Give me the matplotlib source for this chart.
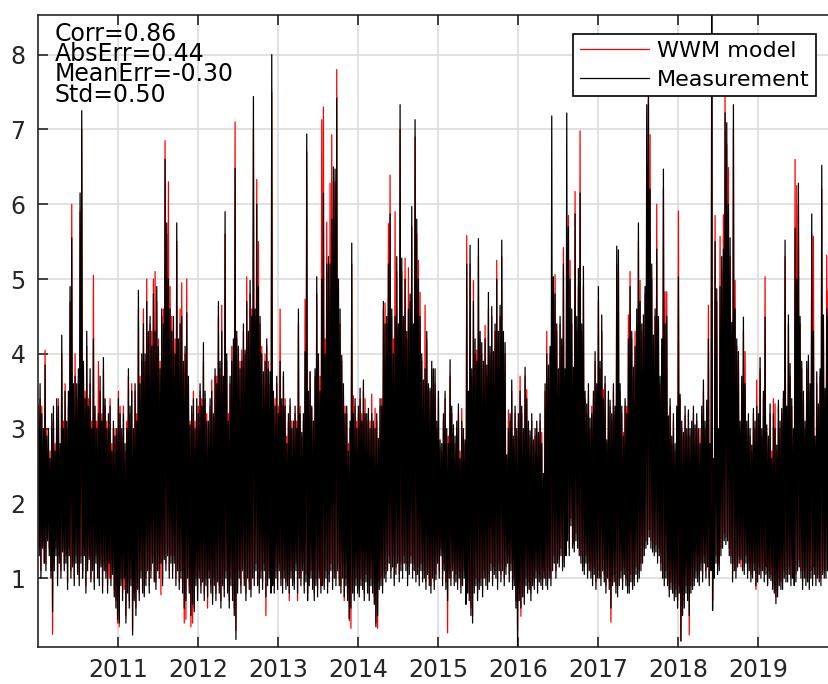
import numpy as np
import matplotlib.pyplot as plt

# Hs time series, 2010-2020, 48 bins per year: peak (hi) and trough (lo) of each bin
meas_hi = [
    3.3, 3.6, 3.2, 3.0, 3.85, 2.9, 3.0, 2.6, 3.2, 3.3,
    2.7, 3.4, 3.3, 2.8, 4.25, 3.0, 3.5, 3.1, 3.5, 4.9,
    5.55, 3.6, 3.7, 3.6, 3.8, 6.15, 7.25, 3.9, 3.4, 4.3,
    3.3, 3.8, 3.0, 4.2, 3.3, 3.0, 3.2, 3.7, 3.1, 3.95,
    3.4, 3.0, 3.2, 3.3, 2.7, 3.1, 2.9, 3.0, 3.4, 3.2,
    3.0, 3.2, 2.8, 3.0, 3.8, 3.3, 3.5, 3.0, 3.6, 3.1,
    4.85, 3.6, 4.0, 4.4, 4.0, 4.7, 4.3, 4.5, 4.1, 4.8,
    4.3, 4.9, 4.1, 3.8, 4.6, 4.4, 6.6, 5.75, 5.0, 4.6,
    4.3, 4.5, 4.0, 5.75, 4.2, 4.4, 4.5, 3.9, 4.1, 4.55,
    3.7, 3.05, 3.3, 3.4, 3.0, 3.4, 3.2, 3.6, 3.3, 4.15,
    3.5, 3.1, 3.1, 3.4, 3.5, 3.2, 3.8, 3.6, 4.7, 3.9,
    4.3, 3.7, 5.9, 4.0, 3.1, 3.7, 3.9, 4.2, 6.48, 4.3,
    4.1, 3.8, 3.9, 4.4, 4.05, 4.7, 4.3, 4.98, 4.5, 7.44,
    4.6, 6.0, 4.9, 4.5, 4.0, 3.76, 3.9, 4.2, 3.8, 3.76,
    8.0, 3.5, 3.3, 3.7, 3.2, 3.9, 3.4, 3.76, 3.3, 2.8,
    3.2, 3.4, 3.0, 3.1, 3.3, 3.0, 4.6, 3.2, 2.95,
    3.2, 4.03, 6.94, 3.5, 3.76, 3.3, 3.1, 3.8, 5.03, 4.0,
    3.5, 5.0, 6.15, 4.0, 5.2, 5.3, 5.2, 5.8, 6.5, 6.47,
    7.42, 5.0, 4.6, 3.98, 3.6, 3.2, 3.3, 2.7, 3.1, 5.48,
    3.2, 3.4, 3.0, 3.3, 3.54, 3.1, 3.65, 3.2, 3.2, 3.27,
    3.0, 3.2, 3.1, 3.0, 3.2, 2.87, 3.4, 3.3, 4.7, 4.4,
    4.5, 5.2, 5.87, 4.6, 4.0, 4.5, 5.3, 4.4, 7.33, 5.28,
    4.5, 5.0, 4.3, 4.6, 4.8, 5.97, 4.4, 7.13, 5.8, 5.0,
    4.5, 4.0, 3.65, 3.8, 4.3, 3.6, 3.54, 3.9, 3.8,
    3.8, 3.1, 3.5, 2.85, 2.8, 3.2, 3.5, 3.0, 2.8, 3.92,
    3.3, 3.05, 2.9, 3.1, 3.33, 2.6, 3.1, 3.0, 2.85, 5.2,
    3.5, 5.45, 3.8, 4.7, 4.2, 3.9, 5.54, 4.3, 4.15, 3.9,
    4.2, 3.85, 4.82, 4.1, 4.63, 4.03, 4.4, 5.0, 4.3, 4.65,
    5.52, 4.3, 4.15, 2.65, 3.0, 3.2, 3.65, 2.9, 3.3, 3.0,
    3.2, 3.5, 3.3, 3.0, 3.82, 3.4, 3.1, 2.97, 3.2, 2.85,
    3.0, 3.1, 2.95, 3.2, 2.8, 2.4, 3.6, 4.0, 3.85, 4.1,
    7.18, 5.03, 4.8, 4.4, 3.8, 4.5, 4.2, 5.2, 3.8,
    7.22, 5.7, 5.0, 4.6, 3.82, 5.87, 4.5, 5.14, 6.15, 4.4,
    5.17, 3.5, 3.33, 3.6, 3.14, 3.2, 3.5, 4.03, 3.6, 4.9,
    3.9, 4.52, 3.4, 3.7, 2.85, 3.5, 3.38, 3.2, 3.6, 3.3,
    5.44, 5.39, 3.6, 3.3, 2.9, 3.4, 3.2, 4.2, 4.9, 4.3,
    3.82, 4.1, 4.6, 5.75, 4.7, 4.4, 4.52, 4.9, 7.33, 7.8,
    6.2, 5.2, 4.25, 4.6, 5.4, 4.5, 3.7, 4.2, 6.47, 4.4,
    4.5, 3.17, 3.4, 2.9, 3.2, 2.8, 3.3, 5.03, 3.46, 3.1,
    2.95, 3.3, 3.0, 3.25, 3.0, 3.1, 3.3, 3.05, 3.2,
    3.0, 2.8, 3.3, 3.65, 3.1, 3.38, 4.2, 2.8, 8.8, 2.6,
    5.5, 4.87, 3.0, 4.9, 5.3, 5.4, 7.22, 7.09, 6.0, 5.55,
    4.42, 7.33, 4.6, 4.2, 4.03, 3.1, 3.7, 4.49, 3.6, 3.1,
    3.2, 3.0, 2.78, 3.27, 3.1, 3.3, 3.2, 3.95, 3.0, 3.5,
    4.49, 3.05, 2.9, 3.33, 2.6, 3.2, 3.0, 2.78, 3.38, 3.1,
    3.27, 3.5, 5.52, 3.3, 4.52, 3.87, 3.4, 3.0, 5.68, 5.0,
    6.28, 4.5, 3.9, 3.5, 3.1, 3.9, 3.98, 3.6, 5.87, 4.3,
    2.9, 3.76, 3.33, 3.8, 6.52, 4.52, 3.54, 4.6, 4.5, 4.0,
    3.5, 4.2, 3.8, 3.6,
]

meas_lo = [
    1.3, 1.0, 1.4, 1.2, 1.1, 1.5, 1.3, 1.0, 0.55, 1.1,
    1.3, 0.9, 1.2, 1.0, 1.35, 1.1, 1.2, 0.85, 1.3, 1.0,
    1.15, 0.9, 1.2, 1.05, 0.9, 1.2, 1.0, 1.3, 0.8, 1.1,
    1.25, 0.95, 1.1, 0.85, 1.2, 1.0, 0.9, 1.15, 0.8, 1.1,
    1.0, 0.8, 1.2, 0.9, 1.05, 0.75, 0.6, 0.45, 0.4, 0.9,
    0.7, 1.0, 0.4, 0.8, 0.6, 0.9, 0.24, 0.7, 0.5, 0.85,
    0.7, 1.0, 0.8, 0.75, 0.9, 1.1, 0.8, 1.0, 1.2, 0.95,
    0.85, 1.1, 1.0, 1.2, 0.9, 1.25, 1.1, 1.3, 1.0, 1.2,
    1.0, 1.2, 0.9, 1.1, 0.85, 1.0, 0.8, 0.6, 0.7, 1.0,
    0.8, 0.5, 0.65, 0.55, 0.9, 0.7, 1.0, 0.8, 0.95, 0.7,
    0.9, 0.75, 1.0, 0.8, 0.65, 0.9, 0.7, 0.95, 0.8, 0.6,
    0.9, 0.75, 1.0, 0.8, 0.6, 0.9, 0.7, 0.5, 0.18, 0.8,
    1.0, 0.8, 1.1, 0.9, 0.7, 1.0, 0.85, 0.75, 1.0, 0.9,
    1.1, 0.9, 0.8, 1.0, 0.85, 1.1, 0.75, 0.9, 1.0, 0.8,
    0.9, 0.8, 1.0, 0.85, 1.1, 0.9, 0.8, 1.0, 0.85, 0.9,
    0.8, 1.0, 0.9, 0.85, 1.1, 0.8, 1.0, 0.9, 1.1,
    0.8, 0.95, 0.7, 0.9, 1.0, 0.85, 0.7, 0.9, 0.75, 1.0,
    0.8, 0.9, 0.85, 1.0, 0.8, 0.95, 1.1, 0.85, 1.0, 0.9,
    1.1, 0.9, 0.8, 1.0, 0.75, 0.9, 0.7, 0.46, 0.6, 0.8,
    0.7, 0.9, 0.8, 0.75, 0.9, 0.85, 0.7, 0.95, 0.8, 0.7,
    0.9, 0.8, 0.65, 0.35, 0.5, 0.85, 0.9, 0.8, 1.0, 0.95,
    1.1, 1.2, 1.0, 1.15, 0.9, 1.05, 1.2, 0.95, 1.1, 1.0,
    1.2, 1.1, 0.9, 1.05, 1.2, 1.0, 1.1, 0.95, 1.05, 0.9,
    1.1, 0.95, 1.0, 0.85, 1.05, 0.9, 0.8, 1.0, 0.85,
    0.98, 1.2, 1.0, 1.3, 0.9, 1.1, 0.85, 0.7, 1.0, 0.9,
    1.1, 0.9, 0.95, 0.85, 1.0, 0.8, 0.9, 1.0, 0.65, 0.8,
    0.7, 0.5, 0.4, 0.8, 0.9, 0.7, 0.85, 0.9, 0.75, 1.0,
    0.9, 0.85, 0.95, 1.1, 0.9, 1.05, 1.0, 0.85, 1.1, 0.95,
    1.1, 0.9, 1.05, 1.2, 0.95, 1.1, 0.85, 0.9, 0.6, 0.08,
    0.7, 0.6, 0.75, 0.65, 0.9, 0.8, 0.85, 0.7, 0.9, 0.85,
    1.0, 0.8, 0.95, 0.9, 0.85, 1.0, 0.9, 0.85, 1.0, 0.9,
    1.1, 1.2, 1.0, 1.2, 1.15, 1.3, 1.1, 1.15, 1.3,
    1.5, 1.3, 1.7, 1.4, 1.35, 1.5, 1.4, 1.3, 1.2, 1.1,
    1.05, 1.2, 1.0, 1.1, 1.0, 0.9, 1.05, 0.85, 1.0, 1.0,
    0.9, 1.1, 0.95, 0.8, 1.0, 0.85, 0.6, 0.9, 0.95, 0.8,
    0.75, 0.9, 1.0, 0.85, 1.05, 0.9, 0.8, 0.8, 0.95, 0.85,
    0.9, 1.05, 0.95, 1.0, 1.1, 1.2, 1.3, 1.4, 1.45, 1.55,
    1.4, 1.35, 1.3, 1.35, 1.2, 1.3, 1.1, 1.0, 0.9, 1.0,
    0.9, 0.75, 0.85, 0.8, 0.7, 0.75, 0.6, 0.8, 0.16, 0.5,
    0.6, 0.8, 0.7, 0.5, 0.8, 0.85, 0.9, 1.0, 0.95,
    0.9, 1.1, 0.95, 1.2, 1.0, 1.15, 0.9, 1.1, 0.57, 1.0,
    1.2, 1.05, 1.1, 1.3, 1.4, 1.5, 1.45, 1.5, 1.3, 1.2,
    0.95, 1.1, 1.0, 1.15, 1.2, 1.25, 1.1, 1.05, 1.2, 1.0,
    1.1, 0.95, 1.0, 1.1, 0.9, 0.95, 1.05, 1.0, 1.1, 0.95,
    1.05, 0.9, 1.0, 0.97, 0.85, 0.8, 0.66, 0.75, 0.9, 0.85,
    0.85, 1.0, 0.95, 0.95, 1.05, 0.9, 1.0, 0.9, 0.95, 1.1,
    1.15, 1.0, 0.85, 1.0, 0.9, 0.95, 0.85, 1.0, 0.9, 1.05,
    0.9, 1.0, 0.95, 0.9, 1.05, 1.0, 1.0, 1.1, 0.95, 1.0,
    1.1, 0.95, 1.05, 1.0,
]

wwm_hi = [
    3.1, 3.4, 3.3, 2.8, 4.05, 3.0, 2.8, 2.7, 3.0, 3.1,
    2.8, 3.2, 3.4, 2.7, 4.0, 3.1, 3.6, 3.0, 3.3, 4.7,
    6.0, 3.5, 4.0, 3.4, 3.7, 5.9, 7.0, 3.8, 3.5, 4.1,
    3.4, 3.6, 3.1, 5.05, 3.1, 3.1, 3.9, 3.5, 3.2, 3.8,
    3.3, 3.1, 3.0, 3.4, 2.8, 3.0, 3.0, 2.9, 3.5, 3.3,
    2.9, 3.3, 2.7, 3.1, 3.7, 3.2, 3.6, 2.9, 3.5, 3.2,
    4.6, 3.7, 3.9, 4.6, 3.9, 5.0, 4.2, 4.4, 4.3, 5.0,
    5.1, 4.7, 4.2, 3.9, 4.5, 4.6, 6.85, 5.6, 6.3, 4.9,
    4.5, 4.3, 4.2, 5.5, 4.0, 4.6, 4.95, 3.8, 4.0, 5.0,
    3.6, 3.1, 3.2, 3.5, 3.1, 3.3, 3.3, 3.5, 3.4, 3.9,
    3.4, 3.2, 3.0, 3.3, 3.65, 3.1, 3.7, 3.7, 4.5, 3.8,
    4.65, 3.6, 5.6, 3.9, 3.2, 3.6, 4.1, 4.1, 7.1, 4.2,
    4.0, 3.9, 4.05, 4.3, 4.0, 5.03, 4.2, 4.8, 4.6, 7.0,
    4.5, 6.33, 5.5, 4.4, 4.1, 3.6, 4.0, 4.1, 3.9, 3.6,
    7.5, 3.4, 3.4, 3.6, 3.3, 4.6, 3.3, 3.7, 3.4, 2.9,
    3.1, 3.3, 3.1, 3.0, 3.2, 3.1, 4.4, 3.3, 2.9,
    3.1, 4.73, 6.7, 3.4, 3.76, 3.27, 3.0, 3.7, 4.8, 3.9,
    3.7, 7.13, 7.3, 4.2, 5.76, 5.1, 6.28, 6.93, 6.3, 6.3,
    7.8, 4.95, 4.4, 3.9, 3.5, 3.3, 3.2, 2.8, 3.0, 5.2,
    3.44, 3.3, 3.1, 3.2, 3.4, 3.2, 3.5, 3.4, 3.1, 3.2,
    3.1, 3.46, 3.0, 3.27, 3.1, 2.8, 3.3, 3.4, 4.6, 4.68,
    4.4, 5.74, 6.39, 4.5, 4.2, 5.9, 5.1, 4.3, 7.0, 5.1,
    4.4, 5.28, 4.2, 5.15, 4.7, 5.7, 4.3, 6.9, 5.6, 5.25,
    4.82, 3.9, 3.6, 4.65, 4.2, 3.5, 3.5, 3.8, 3.7,
    3.6, 3.0, 3.4, 2.75, 2.7, 3.1, 3.4, 2.9, 2.9, 3.7,
    3.2, 2.95, 2.8, 3.0, 3.2, 2.7, 3.27, 2.9, 2.8, 5.58,
    3.4, 5.2, 3.7, 4.98, 4.0, 4.05, 5.3, 4.2, 4.0, 3.8,
    4.38, 3.7, 4.6, 4.0, 4.5, 3.9, 4.3, 5.25, 4.2, 4.5,
    5.3, 4.2, 4.0, 2.6, 3.25, 3.1, 3.5, 2.8, 3.2, 2.9,
    3.1, 3.7, 3.2, 2.9, 3.7, 3.52, 3.0, 2.9, 3.1, 2.8,
    2.9, 3.0, 2.9, 3.1, 2.95, 2.3, 3.5, 4.3, 3.7, 4.0,
    4.8, 4.9, 5.06, 4.3, 3.7, 4.4, 4.1, 5.42, 3.7,
    5.6, 5.85, 5.25, 4.4, 3.7, 6.17, 4.3, 4.9, 6.98, 4.3,
    4.9, 3.4, 3.2, 3.5, 3.0, 3.3, 3.4, 3.9, 3.5, 4.7,
    3.8, 4.3, 3.52, 3.6, 2.8, 3.4, 3.3, 3.1, 3.5, 3.2,
    5.2, 5.1, 3.5, 3.2, 2.95, 3.3, 3.3, 4.52, 5.1, 4.2,
    3.7, 4.3, 4.4, 5.5, 4.98, 4.3, 4.4, 4.8, 6.52, 7.4,
    6.93, 5.0, 4.1, 4.5, 6.0, 4.4, 3.6, 4.1, 6.2, 4.83,
    4.83, 3.1, 3.3, 2.8, 3.1, 2.7, 3.2, 5.91, 3.4, 3.0,
    2.9, 3.17, 2.9, 3.2, 2.9, 3.0, 3.2, 3.0, 3.1,
    2.9, 3.0, 3.2, 3.5, 3.0, 3.3, 4.65, 2.7, 7.9, 2.5,
    5.85, 4.7, 2.9, 5.57, 5.1, 5.86, 7.47, 6.8, 6.49, 5.3,
    4.3, 7.0, 4.98, 4.1, 3.9, 3.0, 3.6, 4.3, 4.03, 3.0,
    3.1, 2.9, 2.7, 3.2, 3.0, 3.65, 3.1, 3.8, 2.9, 3.4,
    5.03, 2.95, 2.8, 3.2, 2.7, 3.4, 3.33, 2.7, 3.3, 3.0,
    3.2, 3.4, 5.3, 3.2, 4.4, 3.7, 3.3, 2.9, 6.6, 6.25,
    6.0, 4.4, 3.8, 3.4, 3.0, 3.8, 3.9, 3.5, 5.6, 5.57,
    2.8, 3.6, 3.2, 3.7, 6.2, 4.4, 3.5, 5.32, 4.85, 3.9,
    3.4, 4.1, 3.7, 3.5,
]

wwm_lo = [
    1.4, 1.1, 1.5, 1.2, 1.2, 1.6, 1.4, 1.1, 0.25, 1.2,
    1.4, 1.0, 1.3, 1.1, 1.4, 1.2, 1.3, 0.95, 1.4, 1.1,
    1.2, 1.0, 1.3, 1.1, 1.0, 1.3, 1.1, 1.4, 0.9, 1.2,
    1.3, 1.0, 1.2, 0.95, 1.3, 1.1, 1.0, 1.2, 0.9, 1.2,
    1.1, 0.9, 1.0, 1.0, 1.1, 0.85, 0.7, 0.4, 0.35, 1.0,
    0.8, 0.85, 0.5, 0.9, 0.7, 1.0, 0.3, 0.8, 0.6, 0.9,
    0.8, 1.1, 0.9, 0.8, 1.0, 1.2, 0.9, 1.1, 1.3, 1.0,
    0.95, 1.2, 1.1, 0.78, 1.0, 1.3, 1.2, 1.4, 1.1, 1.3,
    1.1, 1.3, 1.0, 1.2, 0.95, 1.1, 0.9, 0.4, 0.45, 1.1,
    0.9, 0.35, 0.4, 0.6, 1.0, 0.8, 1.1, 0.9, 1.0, 0.8,
    1.0, 0.6, 1.1, 0.9, 0.75, 1.0, 0.8, 1.0, 0.9, 0.7,
    1.0, 0.85, 1.1, 0.9, 0.7, 1.0, 0.8, 0.6, 0.3, 0.9,
    1.1, 0.9, 1.2, 1.0, 0.8, 1.1, 0.95, 0.85, 1.1, 1.0,
    1.2, 1.0, 0.9, 1.1, 0.95, 1.2, 0.5, 1.0, 1.1, 0.9,
    1.0, 0.9, 1.1, 0.95, 1.2, 1.0, 0.9, 1.1, 0.95, 1.0,
    0.7, 1.1, 1.0, 0.95, 1.2, 0.7, 1.1, 1.0, 1.2,
    0.9, 1.05, 0.8, 1.0, 1.1, 0.95, 0.8, 1.0, 0.85, 1.1,
    0.9, 1.0, 0.95, 1.1, 0.9, 1.05, 1.2, 0.95, 1.1, 1.0,
    1.2, 1.0, 0.9, 1.1, 0.7, 1.0, 0.8, 0.43, 0.33, 0.9,
    0.8, 1.0, 0.9, 0.85, 1.0, 0.95, 0.8, 1.05, 0.9, 0.8,
    1.0, 0.9, 0.75, 0.4, 0.33, 0.95, 1.0, 0.9, 1.1, 1.05,
    1.2, 1.3, 1.1, 1.25, 1.0, 1.15, 1.3, 1.05, 1.2, 1.1,
    1.3, 1.2, 1.0, 1.15, 1.3, 1.1, 1.2, 1.05, 1.15, 1.0,
    1.2, 1.05, 1.1, 0.95, 1.15, 1.0, 0.9, 1.1, 0.95,
    1.05, 1.3, 1.1, 1.4, 1.0, 1.2, 0.95, 0.27, 1.1, 1.0,
    1.2, 1.0, 1.05, 0.95, 1.1, 0.9, 1.0, 1.1, 0.75, 0.9,
    0.8, 0.6, 0.5, 0.9, 1.0, 0.8, 0.95, 1.0, 0.85, 1.1,
    1.0, 0.95, 1.05, 1.2, 1.0, 1.15, 1.1, 0.95, 1.2, 1.05,
    1.2, 1.0, 1.15, 1.3, 1.05, 1.2, 0.95, 1.0, 0.7, 0.3,
    0.8, 0.49, 0.85, 0.75, 1.0, 0.9, 0.95, 0.8, 1.0, 0.95,
    1.1, 0.9, 1.05, 1.0, 0.95, 1.1, 1.0, 0.95, 1.1, 1.0,
    1.2, 1.3, 1.1, 1.3, 1.25, 1.4, 1.2, 1.25, 1.4,
    1.6, 1.4, 1.8, 1.5, 1.45, 1.6, 1.5, 1.4, 1.3, 1.2,
    1.15, 1.3, 1.1, 1.2, 1.1, 1.0, 1.15, 0.95, 1.1, 1.1,
    1.0, 1.2, 1.05, 0.9, 1.1, 0.95, 0.41, 1.0, 1.05, 0.9,
    0.85, 1.0, 1.1, 0.95, 1.15, 1.0, 0.9, 0.9, 1.05, 0.95,
    1.0, 1.15, 1.05, 1.1, 1.2, 1.3, 1.4, 1.5, 1.55, 1.65,
    1.5, 1.45, 1.4, 1.45, 1.3, 1.4, 1.2, 1.1, 1.0, 1.1,
    1.0, 0.85, 0.95, 0.9, 0.8, 0.85, 0.7, 0.9, 0.16, 0.6,
    0.7, 0.9, 0.8, 0.24, 0.9, 0.95, 1.0, 1.1, 1.05,
    1.0, 1.2, 1.05, 1.3, 1.1, 1.25, 1.0, 1.2, 0.7, 1.1,
    1.3, 1.15, 1.2, 1.4, 1.5, 1.6, 1.55, 1.6, 1.4, 1.3,
    1.05, 1.2, 1.1, 1.25, 1.3, 1.15, 1.2, 1.15, 1.3, 1.1,
    1.2, 1.05, 1.1, 1.2, 0.85, 1.05, 1.15, 1.1, 1.2, 1.05,
    1.15, 0.92, 1.1, 1.05, 0.95, 0.9, 0.75, 0.85, 1.0, 0.95,
    0.95, 1.1, 1.05, 1.05, 1.15, 1.0, 1.1, 1.0, 1.05, 1.2,
    1.25, 1.1, 0.95, 1.1, 1.0, 1.05, 0.95, 1.1, 1.0, 1.15,
    1.0, 1.1, 1.05, 1.0, 1.15, 1.1, 1.1, 1.2, 1.05, 1.1,
    1.2, 1.05, 1.15, 1.1,
]

years = [2011, 2012, 2013, 2014, 2015, 2016, 2017, 2018, 2019]
stat_names = ['Corr', 'AbsErr', 'MeanErr', 'Std']
stat_values = [0.86, 0.44, -0.30, 0.50]

bins_per_year = 48
start_year = 2010

# interleave peak/trough of every bin so the line sweeps the full range of each bin
n = min(len(meas_hi), len(meas_lo), len(wwm_hi), len(wwm_lo))
k = np.arange(n)
t = np.empty(2 * n)
t[0::2] = start_year + (k + 0.25) / bins_per_year
t[1::2] = start_year + (k + 0.75) / bins_per_year


def sweep(hi, lo):
    v = np.empty(2 * n)
    v[0::2] = np.asarray(hi[:n])
    v[1::2] = np.asarray(lo[:n])
    return v


axcol = '#262626'
W, H = 829, 684
fig = plt.figure(figsize=(W / 100, H / 100), dpi=100)
ax = fig.add_axes([38 / W, 1 - 647 / H, 800 / W, 632 / H])

ax.plot(t, sweep(wwm_hi, wwm_lo), color='#ff0000', lw=0.9, label='WWM model')
ax.plot(t, sweep(meas_hi, meas_lo), color='black', lw=0.9, label='Measurement')

ax.set_xlim(2010, 2020)
ax.set_ylim(0.08, 8.53)
ax.set_xticks(years)
ax.set_xticklabels([str(y) for y in years])
ax.set_yticks(range(1, 9))

ax.grid(True, color='#dcdcdc', lw=1.2)
ax.set_axisbelow(True)
for s in ax.spines.values():
    s.set_color(axcol)
    s.set_linewidth(1.2)
ax.tick_params(direction='in', length=7, width=1.2, color=axcol,
               labelcolor=axcol, labelsize=17, top=True, right=True)
ax.tick_params(axis='x', pad=8)
ax.tick_params(axis='y', pad=9)

leg = ax.legend(loc='upper right', bbox_to_anchor=(0.9725, 0.970),
                borderaxespad=0, fontsize=16, fancybox=False, framealpha=1,
                edgecolor='black', borderpad=0.3, labelspacing=0.4,
                handlelength=3.1, handletextpad=0.35)
leg.get_frame().set_linewidth(1.2)

# error statistics, stacked tightly in the upper-left corner
stats_text = '\n'.join(f'{name}={val:.2f}' for name, val in zip(stat_names, stat_values))
fig.text(55 / W, 1 - 22 / H, stats_text, fontsize=17, va='top', ha='left',
         color='black', linespacing=0.8)

fig.savefig('out.png', dpi=100)
